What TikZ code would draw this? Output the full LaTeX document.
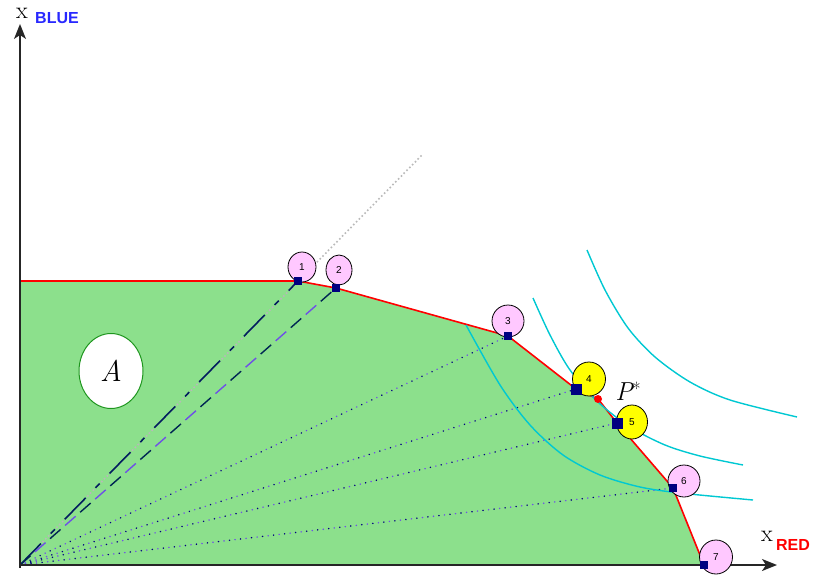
\documentclass[tikz,border=0pt]{standalone}
\usepackage{fontspec}
\newfontfamily\lsans{Liberation Sans}
\usetikzlibrary{shapes.geometric,arrows.meta}
\definecolor{feas}{RGB}{140,224,140}
\definecolor{cyanc}{RGB}{0,200,210}
\definecolor{navyc}{RGB}{0,0,128}
\definecolor{purp}{RGB}{110,80,230}
\definecolor{pinkc}{RGB}{255,200,255}
\definecolor{yelc}{RGB}{255,255,0}
\definecolor{redc}{RGB}{255,0,0}
\definecolor{bluec}{RGB}{40,40,255}
\definecolor{edgegreen}{RGB}{30,150,30}
\begin{document}
\begin{tikzpicture}[x=1pt,y=-1pt,
  lab/.style={ellipse, draw=black, line width=0.8pt, inner sep=0pt, font=\lsans\fontsize{10}{10}\selectfont},
  pinklab/.style={lab, fill=pinkc},
  yellab/.style={lab, fill=yelc},
  pt/.style={fill=navyc, minimum size=8pt, inner sep=0pt},
  indiff/.style={cyanc, line width=1.4pt},
  dotray/.style={line width=1.6pt, line cap=round},
  axis/.style={line width=1.6pt, black!85, -{Stealth[length=15pt,width=12pt,inset=4pt]}}
]
\useasboundingbox (0,0) rectangle (813,580);
% key coordinates
\coordinate (O) at (20,565);
\coordinate (top) at (20,281);
\coordinate (p1) at (298,281);
\coordinate (p2) at (336,288);
\coordinate (p3) at (508,336);
\coordinate (p4) at (576,389);
\coordinate (ps) at (598,399);
\coordinate (p5) at (617,423);
\coordinate (p6) at (673,488);
\coordinate (p7) at (704,565);
\coordinate (g45) at (422,155);
\coordinate (xend) at (777,565);
\coordinate (yend) at (20,24);
\coordinate (ybot) at (20,568);
% feasible region
\fill[feas] (O) -- (top) -- (p1) -- (p2) -- (p3) -- (p4) -- (ps) -- (p5) -- (p6) -- (p7) -- cycle;
% rays
\draw[gray!55, line width=1.6pt, dash pattern=on 1.6pt off 2.4pt] (O) -- (g45);
\draw[navyc!80!cyan!60!black, line width=1.6pt, dash pattern=on 30pt off 14pt on 6pt off 14pt] (O) -- (p1);
\draw[navyc!70!cyan!50!black, line width=1.4pt, dash pattern=on 14pt off 26pt] (O) -- (p2);
\draw[purp, line width=1.4pt, dash pattern=on 14pt off 26pt, dash phase=20pt] (O) -- (p2);
\foreach \p in {p3,p4,p5,p6}{
  \draw[navyc, dotray, dash pattern=on 0.1pt off 11pt] (O) -- (\p);
  \draw[purp, dotray, dash pattern=on 0.1pt off 11pt, dash phase=5.5pt] (O) -- (\p);
}
% frontier
\draw[redc, line width=1.6pt] (top) -- (p1) -- (p2) -- (p3) -- (p4) -- (ps) -- (p5) -- (p6) -- (p7);
% indifference curves
\draw[indiff] plot[smooth] coordinates {(466,325) (500,385) (530,425) (563,455) (600,475) (640,487) (680,493) (753,500)};
\draw[indiff] plot[smooth] coordinates {(533,298) (550,335) (570,370) (598,402) (630,427) (665,445) (700,456) (743,465)};
\draw[indiff] plot[smooth] coordinates {(587,250) (605,290) (628,328) (655,357) (690,382) (730,400) (797,417)};
% axes
\draw[axis] (O) -- (xend);
\draw[axis] (ybot) -- (yend);
% axis labels
\node[inner sep=0pt, font=\fontsize{24}{24}\selectfont] (xb) at (22,13) {x};
\node[inner sep=0pt, text=bluec, font=\lsans\bfseries\fontsize{16}{16}\selectfont] (blue) at (57,18) {BLUE};
\node[inner sep=0pt, font=\fontsize{24}{24}\selectfont] (xr) at (767,536) {x};
\node[inner sep=0pt, text=redc, font=\lsans\bfseries\fontsize{16}{16}\selectfont] (red) at (793,545) {RED};
% region label
\node[ellipse, draw=edgegreen, fill=white, line width=1pt, minimum width=64pt, minimum height=75pt, inner sep=0pt, font=\fontsize{30}{30}\selectfont\itshape] (A) at (111,371) {A};
% point labels
\node[pinklab, minimum width=28pt, minimum height=30pt] (l1) at (302,267) {1};
\node[pinklab, minimum width=26pt, minimum height=30pt] (l2) at (339,270) {2};
\node[pinklab, minimum width=32pt, minimum height=32pt] (l3) at (508,321) {3};
\node[yellab, minimum width=33pt, minimum height=34pt] (l4) at (589,379) {4};
\node[yellab, minimum width=31pt, minimum height=34pt] (l5) at (632,422) {5};
\node[pinklab, minimum width=32pt, minimum height=32pt] (l6) at (684,481) {6};
\node[pinklab, minimum width=33pt, minimum height=34pt] (l7) at (716,557) {7};
% points
\node[pt] (q1) at (p1) {};
\node[pt] (q2) at (p2) {};
\node[pt] (q3) at (p3) {};
\node[pt, minimum size=11pt] (q4) at (p4) {};
\node[pt, minimum size=11pt] (q5) at (p5) {};
\node[pt] (q6) at (p6) {};
\node[pt] (q7) at (p7) {};
\node[circle, fill=redc, minimum size=8pt, inner sep=0pt] (qs) at (ps) {};
\node[inner sep=0pt, anchor=center, font=\fontsize{26}{26}\selectfont\itshape] (pstar) at (628,391) {P\raisebox{5pt}{\fontsize{18}{18}\selectfont\upshape*}};
\end{tikzpicture}
\end{document}
